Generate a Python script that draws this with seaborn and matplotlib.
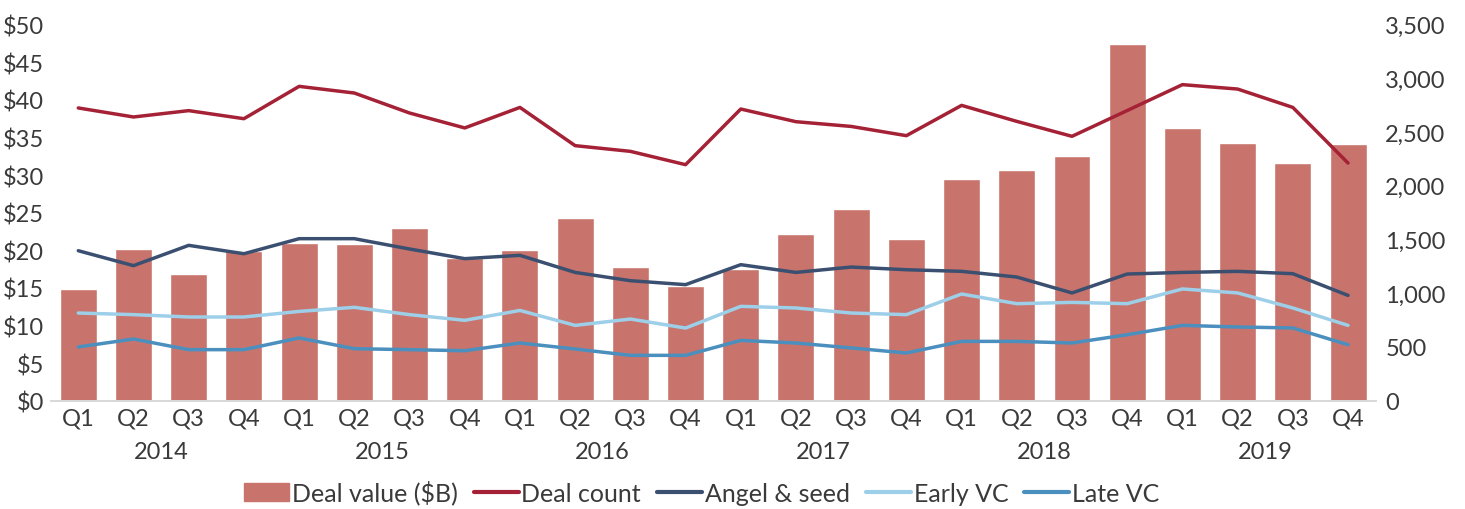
import numpy as np
import pandas as pd
import seaborn as sns
import matplotlib.pyplot as plt
import matplotlib.transforms as mtransforms

# data
quarters = ['Q1', 'Q2', 'Q3', 'Q4'] * 6
years = ['2014', '2015', '2016', '2017', '2018', '2019']

deal_value = [14.9, 20.2, 16.9, 19.9, 21.0, 20.9, 23.0, 19.0,
              20.0, 24.3, 17.8, 15.3, 17.5, 22.1, 25.5, 21.5,
              29.5, 30.7, 32.6, 47.5, 36.3, 34.3, 31.6, 34.1]
deal_count = [2725, 2641, 2700, 2625, 2926, 2864, 2678, 2539,
              2730, 2374, 2321, 2197, 2715, 2597, 2553, 2467,
              2749, 2600, 2461, 2701, 2942, 2901, 2730, 2212]
angel_seed = [1396, 1257, 1446, 1368, 1508, 1508, 1412, 1322,
              1353, 1194, 1117, 1080, 1266, 1194, 1244, 1219,
              1204, 1151, 1003, 1179, 1194, 1204, 1182, 980]
early_vc = [816, 801, 779, 779, 831, 869, 801, 748,
            840, 701, 760, 676, 878, 863, 816, 801,
            993, 903, 915, 903, 1040, 1003, 863, 701]
late_vc = [500, 574, 475, 475, 584, 484, 475, 465,
           537, 481, 422, 422, 561, 537, 491, 444,
           552, 552, 537, 614, 701, 686, 677, 521]

bar_color = '#C8746C'
line_colors = {'Deal count': '#A52236', 'Angel & seed': '#3B5070',
               'Early VC': '#9DCFE9', 'Late VC': '#4B8FBF'}

sns.set_theme(style='white')
plt.rcParams['font.family'] = ['Lato', 'DejaVu Sans']
txt = '#3a3a3a'
fs = 17

idx = np.arange(len(deal_value))
bars = pd.DataFrame({'x': idx, 'value': deal_value})
lines = pd.DataFrame({'x': idx, 'Deal count': deal_count, 'Angel & seed': angel_seed,
                      'Early VC': early_vc, 'Late VC': late_vc})
lines = lines.melt(id_vars='x', var_name='series', value_name='count')

fig = plt.figure(figsize=(14.65, 5.10), dpi=100)
ax = fig.add_axes([0.0346, 0.2124, 0.9044, 0.7372])

sns.barplot(data=bars, x='x', y='value', color=bar_color, width=0.67,
            saturation=1, ax=ax)
ax.set_ylim(0, 50)
ax.set_xlim(-0.5, len(idx) - 0.5)
ax.set_yticks(range(0, 51, 5))
ax.set_yticklabels([f'${v}' for v in range(0, 51, 5)], fontsize=fs, color=txt)
ax.set_xticks(idx)
ax.set_xticklabels(quarters, fontsize=fs, color=txt)
ax.tick_params(axis='both', length=0, pad=5)
ax.set_xlabel('')
ax.set_ylabel('')

ax2 = ax.twinx()
sns.lineplot(data=lines, x='x', y='count', hue='series', palette=line_colors,
             linewidth=2.5, ax=ax2, legend=False)
ax2.set_ylim(0, 3500)
ax2.set_yticks(range(0, 3501, 500))
ax2.set_yticklabels([f'{v:,}' for v in range(0, 3501, 500)], fontsize=fs, color=txt)
ax2.tick_params(axis='y', length=0, pad=7)
ax2.set_ylabel('')
ax2.set_xlabel('')

for a in (ax, ax2):
    for s in ['top', 'left', 'right']:
        a.spines[s].set_visible(False)
    a.spines['bottom'].set_color('#D9D9D9')
    a.grid(False)

# year labels under each group of quarters
trans = mtransforms.blended_transform_factory(ax.transData, ax.transAxes)
for i, y in enumerate(years):
    ax.text(i * 4 + 1.5, -0.135, y, transform=trans, ha='center', va='center',
            fontsize=fs, color=txt)

handles = [plt.Rectangle((0, 0), 1, 1, color=bar_color)]
labels = ['Deal value ($B)']
for name, c in line_colors.items():
    handles.append(plt.Line2D([0], [0], color=c, linewidth=3))
    labels.append(name)
fig.legend(handles, labels, loc='center', bbox_to_anchor=(0.479, 0.033), ncol=5,
           frameon=False, fontsize=18, handlelength=1.8, handletextpad=0.1,
           columnspacing=0.65, labelcolor=txt)

fig.savefig('out.png', dpi=100)
